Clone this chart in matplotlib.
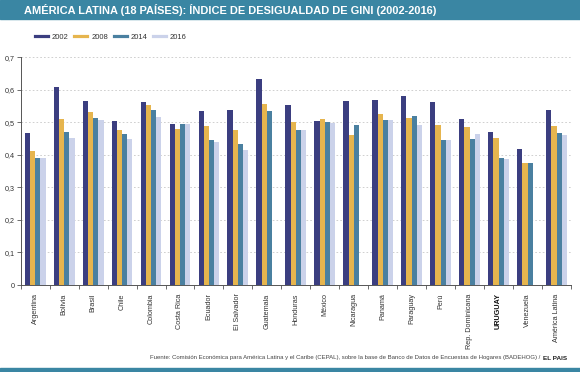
import matplotlib
matplotlib.use("Agg")
import matplotlib.pyplot as plt
from matplotlib.patches import Rectangle
from matplotlib.lines import Line2D
import numpy as np

plt.rcParams['font.family'] = ['Liberation Sans', 'DejaVu Sans']

# datos (índice de Gini)
paises = ["Argentina", "Bolivia", "Brasil", "Chile", "Colombia", "Costa Rica",
          "Ecuador", "El Salvador", "Guatemala", "Honduras", "México",
          "Nicaragua", "Panamá", "Paraguay", "Perú", "Rep. Dominicana",
          "URUGUAY", "Venezuela", "América Latina"]
gini_2002 = [0.466, 0.608, 0.567, 0.505, 0.564, 0.495, 0.534, 0.537, 0.633, 0.552,
             0.505, 0.565, 0.569, 0.580, 0.562, 0.511, 0.471, 0.418, 0.537]
gini_2008 = [0.412, 0.510, 0.533, 0.475, 0.553, 0.481, 0.488, 0.475, 0.556, 0.500,
             0.510, 0.460, 0.525, 0.513, 0.492, 0.486, 0.451, 0.376, 0.489]
gini_2014 = [0.389, 0.469, 0.512, 0.463, 0.537, 0.496, 0.447, 0.432, 0.534, 0.478,
             0.501, 0.493, 0.506, 0.519, 0.445, 0.448, 0.390, 0.376, 0.468]
gini_2016 = [0.389, 0.451, 0.507, 0.449, 0.515, 0.495, 0.440, 0.416, np.nan, 0.475,
             0.498, np.nan, 0.506, 0.491, 0.447, 0.464, 0.386, np.nan, 0.462]
anios = ["2002", "2008", "2014", "2016"]
colores = ["#3b3e80", "#e6b54e", "#4a80a0", "#cbd2ea"]
series = [gini_2002, gini_2008, gini_2014, gini_2016]

W, H = 580, 372
fig = plt.figure(figsize=(W / 100, H / 100), dpi=100)
teal = "#3a86a3"

# barra del título y barra inferior
fig.patches.append(Rectangle((0, 1 - 19 / H), 1, 19 / H, transform=fig.transFigure,
                             color=teal, zorder=0))
fig.patches.append(Rectangle((0, 0), 1, 4 / H, transform=fig.transFigure,
                             color=teal, zorder=0))
fig.text(24 / W, 1 - 10 / H,
         "AMÉRICA LATINA (18 PAÍSES): ÍNDICE DE DESIGUALDAD DE GINI (2002-2016)",
         color="white", fontsize=7.9, fontweight="bold", va="center", ha="left")

ax = fig.add_axes([20.7 / W, 1 - 285 / H, (571 - 20.7) / W, (285 - 57.3) / H])
x = np.arange(len(paises))
ancho = 0.18
for i, (vals, col) in enumerate(zip(series, colores)):
    ax.bar(x + (i - 1.5) * ancho, vals, width=ancho, color=col, zorder=2)

ax.set_xlim(-0.5, len(paises) - 0.5)
ax.set_ylim(0, 0.7)
yt = np.arange(0, 0.71, 0.1)
ax.set_yticks(yt)
ax.set_yticklabels(["0"] + [f"{v:.1f}".replace(".", ",") for v in yt[1:]],
                   fontsize=5.2, color="#333333")
for v in yt[1:]:
    ax.axhline(v, color="#c8c8c8", lw=0.6, ls=(0, (2, 2.5)), zorder=1)

ax.set_xticks(x)
ax.set_xticklabels(paises, rotation=90, fontsize=5.2, color="#333333", va="top")
for lbl in ax.get_xticklabels():
    if lbl.get_text() == "URUGUAY":
        lbl.set_fontweight("bold")
        lbl.set_color("#111111")
ax.set_xticks(np.arange(-0.5, len(paises)), minor=True)
ax.tick_params(axis="x", which="major", length=0, pad=6)
ax.tick_params(axis="x", which="minor", length=3, width=0.6, color="#555555")
ax.tick_params(axis="y", length=3, width=0.6, color="#555555", pad=1.5)
for s in ["top", "right"]:
    ax.spines[s].set_visible(False)
for s in ["left", "bottom"]:
    ax.spines[s].set_color("#555555")
    ax.spines[s].set_linewidth(0.7)

handles = [Line2D([], [], color=c, lw=2.3) for c in colores]
fig.legend(handles, anios, loc="center left", bbox_to_anchor=(35 / W, 1 - 37 / H),
           ncol=4, frameon=False, fontsize=5.5, handlelength=1.7, handletextpad=0.5,
           columnspacing=0.75, borderpad=0, borderaxespad=0, labelcolor="#333333")

# fuente
t_pais = fig.text(567 / W, 1 - 358 / H, "EL PAIS", fontsize=4.6, fontweight="bold",
                  ha="right", va="center", color="#222222")
ax.annotate("Fuente: Comisión Económica para América Latina y el Caribe (CEPAL), sobre la base "
            "de Banco de Datos de Encuestas de Hogares (BADEHOG) /",
            xy=(-0.12, 0.5), xycoords=t_pais, ha="right", va="center", fontsize=4.3,
            color="#444444", annotation_clip=False)

fig.savefig("out.png", dpi=100)
